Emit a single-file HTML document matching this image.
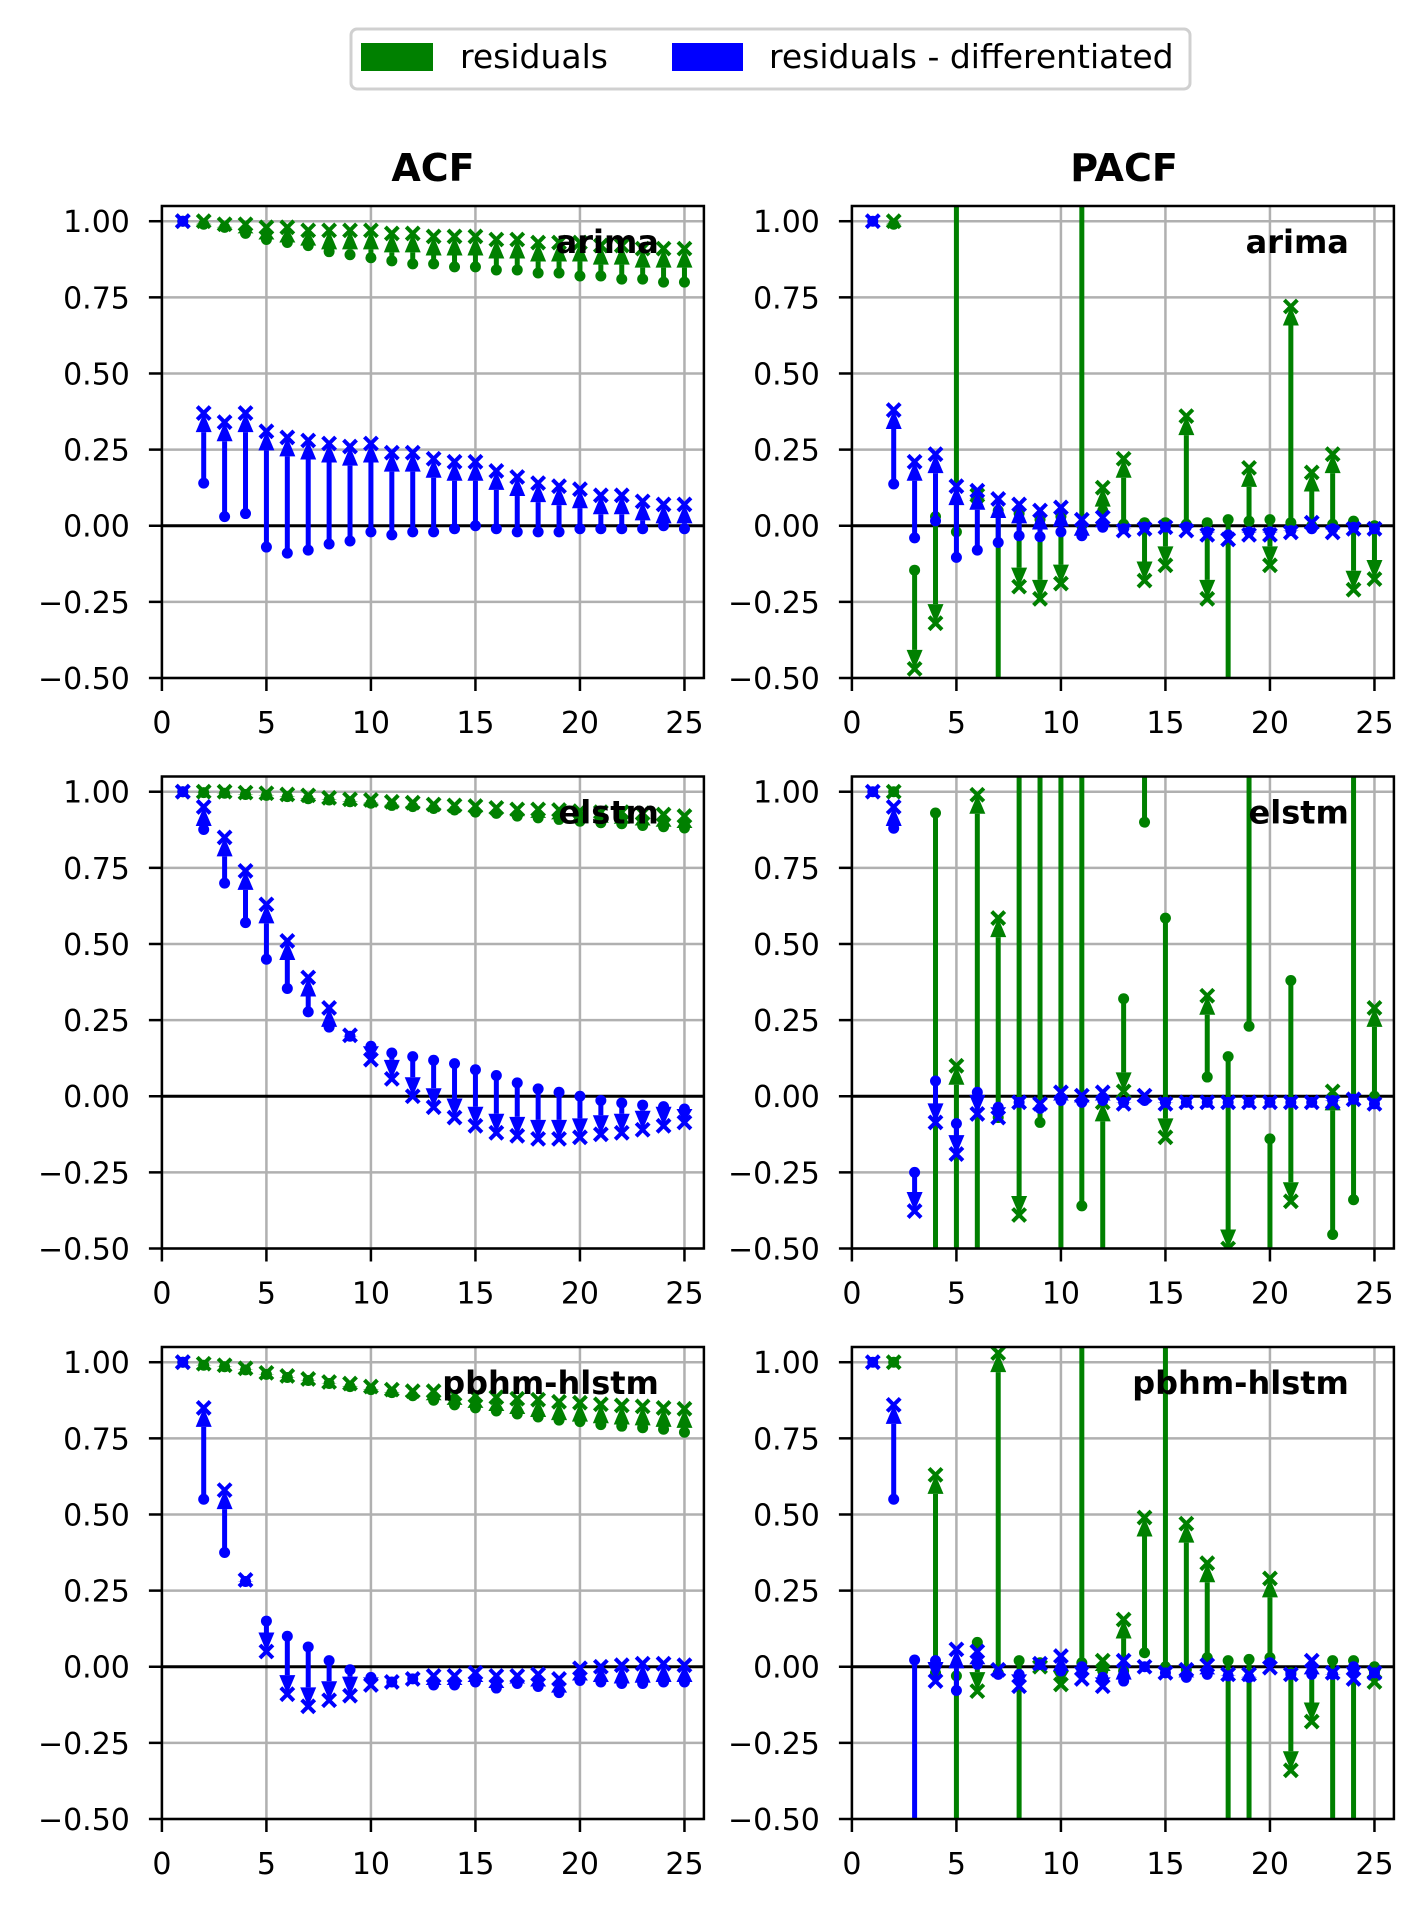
<!DOCTYPE html>
<html><head><meta charset="utf-8"><style>
html,body{margin:0;padding:0;background:#fff;overflow:hidden;width:1423px;height:1910px;}
svg{display:block;}
text{font-family:"DejaVu Sans","Liberation Sans",sans-serif;}
</style></head>
<body>
<svg id="fig" width="1423" height="1910" viewBox="0 0 1423 1910" xmlns="http://www.w3.org/2000/svg">
<g>
<rect x="351" y="29" width="839" height="60" rx="6" fill="#fff" stroke="#d0d0d0" stroke-width="3"/>
<rect x="361" y="43" width="72" height="28" fill="#008000"/>
<text x="460" y="68" font-size="33">residuals</text>
<rect x="672" y="43" width="71" height="28" fill="#0000ff"/>
<text x="769" y="68" font-size="33">residuals - differentiated</text>
</g>
<text x="433" y="181" font-size="38" font-weight="bold" text-anchor="middle">ACF</text>
<text x="1124" y="181" font-size="38" font-weight="bold" text-anchor="middle">PACF</text>
</svg>
<script>
const lags = [1,2,3,4,5,6,7,8,9,10,11,12,13,14,15,16,17,18,19,20,21,22,23,24,25];
const yTicks = [-0.5,-0.25,0,0.25,0.5,0.75,1.0];
const yTickLabels = ["\u22120.50","\u22120.25","0.00","0.25","0.50","0.75","1.00"];
const xTicks = [0,5,10,15,20,25];
const xTickLabels = ["0","5","10","15","20","25"];
const modelNames = ["arima","elstm","pbhm-hlstm"];

// ACF arima
const acfArimaResDot = [1.0,0.99,0.98,0.96,0.94,0.93,0.92,0.90,0.89,0.88,0.87,0.86,0.86,0.85,0.85,0.84,0.84,0.83,0.83,0.82,0.82,0.81,0.81,0.80,0.80];
const acfArimaResX   = [1.0,1.0,0.99,0.99,0.98,0.98,0.97,0.97,0.97,0.97,0.96,0.96,0.95,0.95,0.95,0.94,0.94,0.93,0.93,0.93,0.92,0.92,0.91,0.91,0.91];
const acfArimaDiffDot = [1.0,0.14,0.03,0.04,-0.07,-0.09,-0.08,-0.06,-0.05,-0.02,-0.03,-0.02,-0.02,-0.01,0.0,-0.01,-0.02,-0.02,-0.02,-0.01,-0.01,-0.01,-0.01,0.0,-0.01];
const acfArimaDiffX   = [1.0,0.37,0.34,0.37,0.31,0.29,0.28,0.27,0.26,0.27,0.24,0.24,0.22,0.21,0.21,0.18,0.16,0.14,0.13,0.12,0.10,0.10,0.08,0.07,0.07];
// PACF arima
const pacfArimaResDot = [null,0.99,-0.146,0.03,-0.02,0.09,0.05,0.04,0.02,0.03,0.0,0.05,0.005,0.01,0.01,0.005,0.01,0.02,0.015,0.02,0.01,0.0,0.005,0.015,0.0];
const pacfArimaResX   = [null,1.0,-0.47,-0.32,3.0,0.10,-3.0,-0.20,-0.24,-0.19,3.0,0.125,0.22,-0.18,-0.13,0.36,-0.24,-3.0,0.19,-0.13,0.72,0.175,0.235,-0.21,-0.175];
const pacfArimaDiffDot = [1.0,0.137,-0.04,0.016,-0.104,-0.08,-0.055,-0.033,-0.036,-0.02,-0.033,-0.005,-0.01,-0.004,-0.004,-0.004,-0.02,-0.03,-0.02,-0.02,-0.016,-0.01,-0.01,-0.005,-0.01];
const pacfArimaDiffX   = [1.0,0.38,0.21,0.235,0.13,0.115,0.088,0.07,0.05,0.06,0.02,0.027,-0.016,-0.01,-0.005,-0.016,-0.03,-0.045,-0.03,-0.03,-0.022,0.01,-0.022,-0.01,-0.01];
// ACF elstm
const acfElstmResDot = [1.0,0.997,0.995,0.991,0.988,0.984,0.977,0.973,0.967,0.962,0.955,0.951,0.945,0.94,0.933,0.929,0.92,0.914,0.909,0.903,0.898,0.895,0.889,0.885,0.881];
const acfElstmResX   = [1.0,1.0,1.0,0.997,0.995,0.991,0.988,0.98,0.975,0.973,0.967,0.964,0.958,0.955,0.953,0.947,0.942,0.942,0.94,0.936,0.933,0.933,0.929,0.925,0.92];
const acfElstmDiffDot = [1.0,0.876,0.70,0.57,0.45,0.354,0.277,0.227,0.197,0.164,0.142,0.13,0.118,0.107,0.087,0.068,0.044,0.024,0.013,0.0,-0.014,-0.022,-0.029,-0.034,-0.042];
const acfElstmDiffX   = [1.0,0.95,0.85,0.74,0.63,0.51,0.39,0.29,0.20,0.12,0.057,0.0,-0.036,-0.07,-0.097,-0.12,-0.13,-0.14,-0.14,-0.135,-0.125,-0.12,-0.11,-0.097,-0.086];
// PACF elstm
const pacfElstmResDot = [null,1.0,null,0.93,-3.0,-3.0,-0.07,3.0,-0.086,3.0,-0.36,-3.0,0.32,0.90,0.585,null,0.063,0.13,0.23,-0.14,0.38,null,-0.454,-0.34,0.0];
const pacfElstmResX   = [null,1.0,null,-3.0,0.10,0.99,0.585,-0.39,3.0,-3.0,3.0,-0.02,0.016,3.0,-0.135,null,0.33,-0.50,3.0,-3.0,-0.345,null,0.016,3.0,0.29];
const pacfElstmDiffDot = [1.0,0.88,-0.25,0.05,-0.09,0.013,-0.036,-0.02,-0.04,-0.014,-0.02,-0.014,-0.02,-0.014,-0.02,-0.02,-0.02,-0.02,-0.02,-0.02,-0.02,-0.02,-0.014,-0.01,-0.025];
const pacfElstmDiffX   = [1.0,0.95,-0.377,-0.086,-0.19,-0.058,-0.07,-0.02,-0.025,0.013,0.002,0.013,-0.025,0.002,-0.025,-0.02,-0.02,-0.02,-0.02,-0.02,-0.02,-0.02,-0.02,-0.01,-0.025];
// ACF pbhm-hlstm
const acfPbhmResDot = [1.0,0.99,0.985,0.975,0.96,0.95,0.94,0.93,0.92,0.91,0.90,0.89,0.875,0.86,0.85,0.84,0.83,0.82,0.81,0.805,0.795,0.79,0.785,0.78,0.77];
const acfPbhmResX   = [1.0,0.995,0.99,0.98,0.965,0.955,0.945,0.935,0.93,0.92,0.91,0.905,0.905,0.895,0.89,0.885,0.88,0.877,0.87,0.867,0.862,0.858,0.855,0.85,0.847];
const acfPbhmDiffDot = [1.0,0.55,0.375,0.28,0.15,0.10,0.065,0.02,-0.01,-0.035,-0.05,-0.04,-0.06,-0.06,-0.05,-0.07,-0.055,-0.065,-0.085,-0.045,-0.05,-0.055,-0.055,-0.05,-0.05];
const acfPbhmDiffX   = [1.0,0.85,0.58,0.285,0.05,-0.09,-0.13,-0.11,-0.095,-0.06,-0.05,-0.04,-0.03,-0.03,-0.02,-0.03,-0.03,-0.025,-0.04,-0.005,0.0,0.005,0.01,0.01,0.005];
// PACF pbhm-hlstm
const pacfPbhmResDot = [null,1.0,null,-0.02,-0.03,0.08,-0.02,0.02,0.013,-0.014,0.013,-0.014,-0.014,0.046,0.0,-0.01,0.03,0.02,0.024,0.03,-0.02,-0.02,0.02,0.02,0.0];
const pacfPbhmResX   = [null,1.0,null,0.63,-3.0,-0.08,1.03,-3.0,0.0,-0.058,3.0,0.02,0.155,0.49,3.0,0.47,0.34,-3.0,-3.0,0.29,-0.34,-0.18,-3.0,-3.0,-0.05];
const pacfPbhmDiffDot = [1.0,0.55,0.022,0.02,-0.078,0.008,-0.025,-0.025,0.007,-0.014,0.0,-0.035,-0.047,0.0,-0.02,-0.035,-0.025,-0.03,-0.035,0.013,-0.025,-0.025,-0.025,0.0,-0.02];
const pacfPbhmDiffX   = [1.0,0.86,-3.0,-0.047,0.057,0.05,-0.01,-0.064,0.01,0.035,-0.04,-0.064,0.02,0.0,-0.02,-0.01,0.005,-0.025,-0.025,-0.003,-0.025,0.02,-0.02,-0.04,-0.02];

const NS = "http://www.w3.org/2000/svg";
const svg = document.getElementById("fig");
function mk(tag, attrs, parent){ const e=document.createElementNS(NS,tag); for(const k in attrs) e.setAttribute(k,attrs[k]); (parent||svg).appendChild(e); return e; }

const colLeft = [161.9, 851.9];
const rowTop = [206, 776.5, 1347];
const AW = 542, AH = 472, XMIN = 0, XMAX = 25.93, YMIN = -0.5, YMAX = 1.05;

const panels = [
  {row:0,col:0,kind:"acf",model:0,rd:acfArimaResDot,rx:acfArimaResX,dd:acfArimaDiffDot,dx:acfArimaDiffX},
  {row:0,col:1,kind:"pacf",model:0,rd:pacfArimaResDot,rx:pacfArimaResX,dd:pacfArimaDiffDot,dx:pacfArimaDiffX},
  {row:1,col:0,kind:"acf",model:1,rd:acfElstmResDot,rx:acfElstmResX,dd:acfElstmDiffDot,dx:acfElstmDiffX},
  {row:1,col:1,kind:"pacf",model:1,rd:pacfElstmResDot,rx:pacfElstmResX,dd:pacfElstmDiffDot,dx:pacfElstmDiffX},
  {row:2,col:0,kind:"acf",model:2,rd:acfPbhmResDot,rx:acfPbhmResX,dd:acfPbhmDiffDot,dx:acfPbhmDiffX},
  {row:2,col:1,kind:"pacf",model:2,rd:pacfPbhmResDot,rx:pacfPbhmResX,dd:pacfPbhmDiffDot,dx:pacfPbhmDiffX},
];

function drawSeries(g, xs, ys, dots, xv, color, name){
  const sg = mk("g",{},g);
  
  
  lags.forEach((lag,i)=>{
    if (dots[i] === null || xv[i] === null) return;
    const px = xs(lag), y1 = ys(dots[i]), y2 = ys(xv[i]);
    const dy = y2 - y1, dir = dy >= 0 ? 1 : -1, len = Math.abs(dy);
    const hl = Math.min(19, len);
    if (len > 0.5) {
      const stem = mk("line",{x1:px,y1:y1,x2:px,y2:y2-dir*hl,stroke:color,"stroke-width":5},sg);
      
      
      const head = mk("polygon",{points:`${px},${y2} ${px-8},${y2-dir*hl} ${px+8},${y2-dir*hl}`,fill:color},sg);
      
      
    }
    const dot = mk("circle",{cx:px,cy:y1,r:5.5,fill:color},sg);
    
    
    const xm = mk("path",{d:`M${px-6.5},${y2-6.5}L${px+6.5},${y2+6.5}M${px-6.5},${y2+6.5}L${px+6.5},${y2-6.5}`,stroke:color,"stroke-width":4,fill:"none"},sg);
    
    
  });
}

panels.forEach((p,pi)=>{
  const L = colLeft[p.col], T = rowTop[p.row];
  const xs = v => L + (v - XMIN) / (XMAX - XMIN) * AW;
  const ysRaw = v => T + (YMAX - v) / (YMAX - YMIN) * AH;
  const ys = v => Math.max(T - 40, Math.min(T + AH + 40, ysRaw(v)));
  const g = mk("g",{});
  
  
  const cid = "clip" + pi;
  const cp = mk("clipPath",{id:cid},g);
  mk("rect",{x:L,y:T,width:AW,height:AH},cp);
  const grid = mk("g",{stroke:"#b0b0b0","stroke-width":2.5},g);
  
  
  yTicks.forEach(v=>mk("line",{x1:L,x2:L+AW,y1:ys(v),y2:ys(v)},grid));
  xTicks.forEach(v=>mk("line",{x1:xs(v),x2:xs(v),y1:T,y2:T+AH},grid));
  const zl = mk("line",{x1:L,x2:L+AW,y1:ys(0),y2:ys(0),stroke:"#000","stroke-width":3},g);
  
  
  const data = mk("g",{"clip-path":`url(#${cid})`},g);
  
  
  drawSeries(data, xs, ys, p.rd, p.rx, "#008000", "residuals-series");
  drawSeries(data, xs, ys, p.dd, p.dx, "#0000ff", "differentiated-series");
  const sp = mk("rect",{x:L,y:T,width:AW,height:AH,fill:"none",stroke:"#000","stroke-width":2.5},g);
  
  
  const ya = mk("g",{},g);
  
  
  yTicks.forEach((v,i)=>{
    mk("line",{x1:L-13,x2:L,y1:ys(v),y2:ys(v),stroke:"#000","stroke-width":2.5},ya);
    const t = mk("text",{x:L-32,y:ys(v)+11,"font-size":30,"text-anchor":"end"},ya);
    t.textContent = yTickLabels[i];
    
    
  });
  const xa = mk("g",{},g);
  
  
  xTicks.forEach((v,i)=>{
    mk("line",{x1:xs(v),x2:xs(v),y1:T+AH,y2:T+AH+13,stroke:"#000","stroke-width":2.5},xa);
    const t = mk("text",{x:xs(v),y:T+AH+55,"font-size":30,"text-anchor":"middle"},xa);
    t.textContent = xTickLabels[i];
    
    
  });
  const lbl = mk("text",{x:L+497,y:T+47,"font-size":32,"font-weight":"bold","text-anchor":"end"},g);
  lbl.textContent = modelNames[p.model];
  
  
});
</script>
</body></html>
